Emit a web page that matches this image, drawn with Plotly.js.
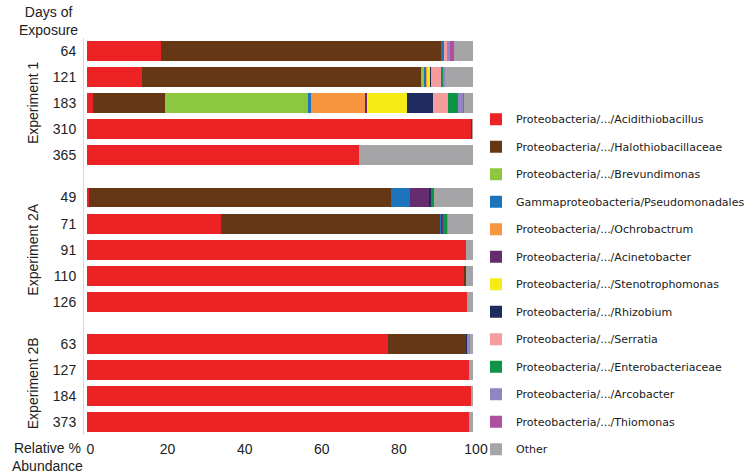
<!DOCTYPE html>
<html>
<head>
<meta charset="utf-8">
<script src="https://cdn.plot.ly/plotly-3.0.1.min.js"></script>
<style>html,body{margin:0;padding:0;background:#fff;}#chart{width:752px;height:475px;}</style>
</head>
<body>
<div id="chart"></div>
<script>
// ---- data ----
var groups = ["Experiment 1", "Experiment 2A", "Experiment 2B"];
var groupDays = [
  ["64", "121", "183", "310", "365"],
  ["49", "71", "91", "110", "126"],
  ["63", "127", "184", "373"]
];
var taxa = [
  "Proteobacteria/.../Acidithiobacillus",
  "Proteobacteria/.../Halothiobacillaceae",
  "Proteobacteria/.../Brevundimonas",
  "Gammaproteobacteria/Pseudomonadales",
  "Proteobacteria/.../Ochrobactrum",
  "Proteobacteria/.../Acinetobacter",
  "Proteobacteria/.../Stenotrophomonas",
  "Proteobacteria/.../Rhizobium",
  "Proteobacteria/.../Serratia",
  "Proteobacteria/.../Enterobacteriaceae",
  "Proteobacteria/.../Arcobacter",
  "Proteobacteria/.../Thiomonas",
  "Other"
];
// rows in order: 64,121,183,310,365 | 49,71,91,110,126 | 63,127,184,373
var acidithiobacillus   = [19.0, 14.2, 1.4, 99.5, 70.5,  0.3, 34.6, 98.3, 97.7, 98.5,  78.0, 99.0, 99.6, 99.0];
var halothiobacillaceae = [72.8, 72.4, 18.7, 0.3, 0,     78.3, 56.8, 0, 0.4, 0,        19.8, 0, 0, 0];
var brevundimonas       = [0, 0.8, 37.2, 0, 0,           0, 0, 0, 0, 0,                0, 0, 0, 0];
var pseudomonadales     = [0.7, 0.4, 0.8, 0, 0,          5.0, 0.3, 0, 0, 0,            0, 0, 0, 0];
var ochrobactrum        = [0, 0.3, 13.8, 0, 0,           0, 0, 0, 0, 0,                0, 0, 0, 0];
var acinetobacter       = [0, 0, 0.7, 0, 0,              5.0, 0.4, 0, 0, 0,            0.3, 0, 0, 0];
var stenotrophomonas    = [0, 0.7, 10.3, 0, 0,           0, 0, 0, 0, 0,                0, 0, 0, 0];
var rhizobium           = [0, 0.4, 6.7, 0, 0,            0.4, 0, 0, 0, 0,              0.3, 0, 0, 0];
var serratia            = [0.8, 2.4, 3.9, 0, 0,          0, 0, 0, 0, 0,                0, 0, 0, 0];
var enterobacteriaceae  = [0, 0.5, 2.6, 0, 0,            0.8, 1.1, 0, 0, 0,            0, 0, 0, 0];
var arcobacter          = [0.8, 0.6, 1.3, 0, 0,          0, 0.3, 0, 0, 0,              0.7, 0, 0, 0];
var thiomonas           = [0.9, 0, 0.2, 0, 0,            0, 0, 0, 0, 0,                0, 0, 0, 0];
var other               = [5.0, 7.3, 2.4, 0.2, 29.5,     10.2, 6.5, 1.7, 1.9, 1.5,     0.9, 1.0, 0.4, 1.0];
var xTicks = [0, 20, 40, 60, 80, 100];

// ---- styles ----
var seriesValues = [acidithiobacillus, halothiobacillaceae, brevundimonas, pseudomonadales,
  ochrobactrum, acinetobacter, stenotrophomonas, rhizobium, serratia, enterobacteriaceae,
  arcobacter, thiomonas, other];
var colors = ["#ED2224", "#653714", "#8DC63F", "#1C75BC", "#F7963F", "#662D6E",
  "#F6EB16", "#1F2A5E", "#F49C9E", "#0E9447", "#9087C2", "#B04FA0", "#A5A5A7"];
var GROUP_GAP = 0.63;
var FONT = "Liberation Sans, Arial, sans-serif";

// y positions computed from group structure
var yPos = [], yText = [], groupCenters = [];
var idx = 0;
groupDays.forEach(function (days, g) {
  var start = idx + g * GROUP_GAP;
  days.forEach(function (d, r) {
    yPos.push(idx + g * GROUP_GAP);
    yText.push(d);
    idx++;
  });
  groupCenters.push((start + (idx - 1 + g * GROUP_GAP)) / 2);
});

var traces = taxa.map(function (name, i) {
  return {
    type: "bar",
    orientation: "h",
    name: name,
    x: seriesValues[i],
    y: yPos,
    width: 0.76,
    marker: {color: colors[i], line: {width: 0}},
    legendgroup: "g" + i,
    hoverinfo: "name+x"
  };
});

var annotations = [
  {text: "Days of<br>Exposure", xref: "paper", yref: "paper", x: -0.0925, y: 1.043,
   showarrow: false, font: {family: FONT, size: 14, color: "#222"}, xanchor: "center", yanchor: "middle"},
  {text: "Relative %<br>Abundance", xref: "paper", yref: "paper", x: -0.095, y: -0.055,
   showarrow: false, font: {family: FONT, size: 14, color: "#222"}, xanchor: "center", yanchor: "middle"}
];
groups.forEach(function (gname, g) {
  annotations.push({text: gname, xref: "paper", yref: "y", x: -0.131, y: groupCenters[g],
    textangle: -90, showarrow: false, font: {family: FONT, size: 14, color: "#222"},
    xanchor: "center", yanchor: "middle"});
});

var layout = {
  width: 752, height: 475,
  margin: {l: 84, r: 279, t: 38, b: 40, autoexpand: false},
  paper_bgcolor: "#fff", plot_bgcolor: "#fff",
  barmode: "stack",
  showlegend: true,
  legend: {
    x: 1.0077, y: 0.832, xanchor: "left", yanchor: "top",
    traceorder: "grouped", tracegroupgap: 8.5,
    font: {family: "DejaVu Sans, Verdana, sans-serif", size: 11, color: "#1a1a1a"},
    bgcolor: "rgba(0,0,0,0)", borderwidth: 0
  },
  xaxis: {
    range: [-0.9, 100], tickvals: xTicks, ticktext: xTicks.map(String),
    showgrid: false, zeroline: false, showline: false, ticks: "",
    ticklabelshift: 3, ticklabelstandoff: 4,
    tickfont: {family: FONT, size: 14, color: "#222"}, fixedrange: true
  },
  yaxis: {
    range: [14.75, -0.5], tickvals: yPos, ticktext: yText,
    showgrid: false, zeroline: false, showline: true, linecolor: "#d9d9d9", linewidth: 1,
    ticks: "", ticklabelstandoff: 4,
    tickfont: {family: FONT, size: 14, color: "#222"}, fixedrange: true
  },
  annotations: annotations
};

Plotly.newPlot("chart", traces, layout, {displayModeBar: false, staticPlot: true});
</script>
</body>
</html>
